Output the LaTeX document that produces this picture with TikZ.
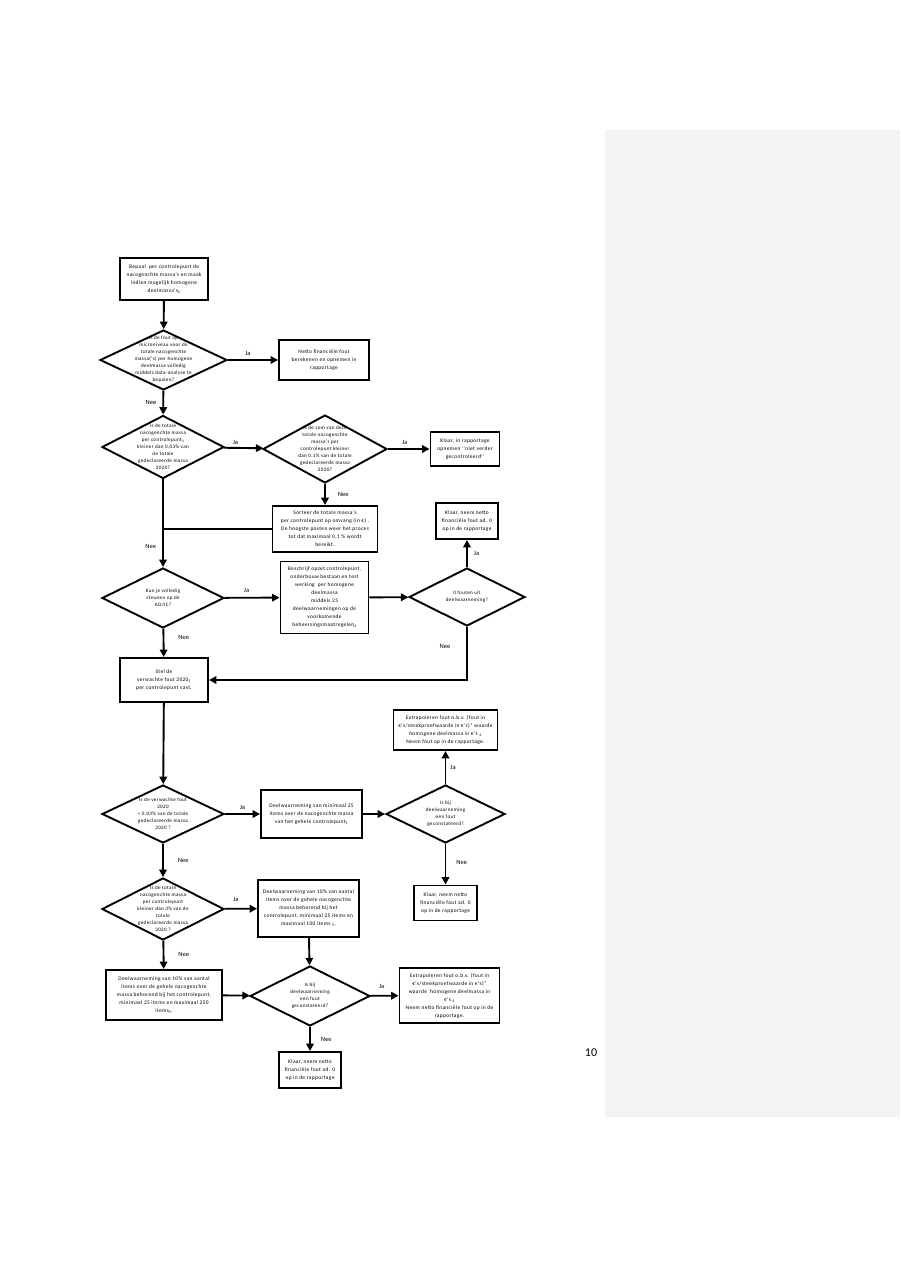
\documentclass[tikz,border=0pt]{standalone}
\usepackage{fontspec}
\setmainfont{Carlito}
\newfontfamily\boxfont[LetterSpace=7]{Carlito}
\usetikzlibrary{shapes.geometric,arrows.meta}
\newcommand{\dtxt}[2]{\makebox[0pt]{\raisebox{-1.4pt}{\smash{\parbox{#1}{\centering #2}}}}}
\newcommand{\fn}[1]{\textsubscript{#1}}
\begin{document}
\begin{tikzpicture}[x=1pt,y=-1pt,
  box/.style={draw, line width=1.9pt, align=center, inner sep=2pt,
    font=\boxfont\fontsize{5.4}{8}\selectfont},
  dia/.style={diamond, draw, line width=1.9pt, inner sep=0pt,
    font=\boxfont\fontsize{5.1}{7}\selectfont},
  arr/.style={line width=1.9pt, -{Triangle[length=7.5pt,width=7.5pt]}},
  ln/.style={line width=1.9pt},
  lbl/.style={font=\fontsize{6.5}{7}\selectfont, inner sep=0pt}]
\path[use as bounding box] (0,0) rectangle (900,1273);
\fill[fill={rgb,255:red,243;green,243;blue,243}] (605,130) rectangle (900,1117);
\node[font=\fontsize{12}{12}\selectfont, inner sep=0pt] (pg) at (591,1053) {10};

% nodes
\node[box, minimum width=88pt, minimum height=42pt] (b1) at (164,279)
  {Bepaal \ per controlepunt de\\ nacogenchte massa's en maak\\ indien mogelijk homogene\\ deelmassa's\fn{2}};
\node[dia, minimum width=127pt, minimum height=60pt] (d1) at (163.5,360)
  {\dtxt{66pt}{Is de fout op\\ microniveau voor de\\ totale nacogenchte\\ massa('s) per homogene\\ deelmassa volledig\\ middels data-analyse te\\ bepalen?}};
\node[box, minimum width=90pt, minimum height=40pt] (b2) at (324,360)
  {Netto financiële fout\\ berekenen en opnemen in\\ rapportage};
\node[dia, minimum width=122pt, minimum height=63pt] (d2) at (163,447)
  {\dtxt{62pt}{Is de totale\\ nacogenchte massa\\ per controlepunt\fn{3}\\ kleiner dan 0,03\% van\\ de totale\\ gedeclareerde massa\\ 2020?}};
\node[dia, minimum width=124pt, minimum height=68pt] (d3) at (325,449)
  {\dtxt{66pt}{Is de som van deze\\ totale nacogenchte\\ massa's per\\ controlepunt kleiner\\ dan 0,1\% van de totale\\ gedeclareerde massa\\ 2020?}};
\node[box, minimum width=69pt, minimum height=34pt] (b3) at (465,449)
  {Klaar, in rapportage\\ opnemen ''niet verder\\ gecontroleerd''};
\node[box, minimum width=105pt, minimum height=46pt] (b4) at (325,529)
  {Sorteer de totale massa's\\ per controlepunt op omvang (in €) .\\ De hoogste posten weer het proces\\ tot dat maximaal 0,1 \% wordt\\ bereikt.};
\coordinate (j1) at (163,529);
\node[dia, minimum width=122pt, minimum height=60pt] (d4) at (163,598)
  {\dtxt{60pt}{Kun je volledig\\ steunen op de\\ AO/IC?}};
\node[box, minimum width=88pt, minimum height=72pt] (b5) at (324.5,597.5)
  {Beschrijf opzet controlepunt,\\ onderbouw bestaan en test\\ werking \ per homogene\\ deelmassa\\ middels 25\\ deelwaarnemingen op de\\ voorkomende\\ beheersingsmaatregelen\fn{4}};
\node[dia, minimum width=116pt, minimum height=58pt] (d5) at (467,597)
  {\dtxt{60pt}{0 fouten uit\\ deelwaarneming?}};
\node[box, minimum width=62pt, minimum height=36pt] (b6) at (467,521)
  {Klaar, neem netto\\ financiële fout ad. 0\\ op in de rapportage};
\node[box, minimum width=88pt, minimum height=44pt] (b7) at (164,680)
  {Stel de\\ verwachte fout 2020\fn{3}\\ per controlepunt vast.};
\node[dia, minimum width=122pt, minimum height=58pt] (d6) at (163,814)
  {\dtxt{62pt}{Is de verwachte fout\\ 2020\\ < 0,03\% van de totale\\ gedeclareerde massa\\ 2020 ?}};
\node[box, minimum width=101pt, minimum height=48pt] (b8) at (311.5,814)
  {Deelwaarneming van minimaal 25\\ items over de nacogenchte massa\\ van het gehele controlepunt\fn{5}};
\node[dia, minimum width=119pt, minimum height=58pt] (d7) at (445.5,814)
  {\dtxt{60pt}{Is bij\\ deelwaarneming\\ een fout\\ geconstateerd?}};
\node[box, minimum width=104pt, minimum height=40pt] (b9) at (445.5,730)
  {Extrapoleren fout o.b.v. (fout in\\ €'s/steekproefwaarde in €'s)* waarde\\ homogene deelmassa in €'s \fn{4}\\ Neem fout op in de rapportage.};
\node[box, minimum width=63pt, minimum height=35pt] (b10) at (445.5,903)
  {Klaar, neem netto\\ financiële fout ad. 0\\ op in de rapportage};
\node[dia, minimum width=122pt, minimum height=62pt] (d8) at (163,909)
  {\dtxt{62pt}{Is de totale\\ nacogenchte massa\\ per controlepunt\\ kleiner dan 3\% van de\\ totale\\ gedeclareerde massa\\ 2020 ?}};
\node[box, minimum width=101pt, minimum height=57pt] (b11) at (308.5,908.5)
  {Deelwaarneming van 10\% van aantal\\ items over de gehele nacogenchte\\ massa behorend bij het\\ controlepunt, minimaal 25 items en\\ maximaal 100 items \fn{5}.};
\node[dia, minimum width=120pt, minimum height=60pt] (d9) at (310,996)
  {\dtxt{60pt}{Is bij\\ deelwaarneming\\ een fout\\ geconstateerd?}};
\node[box, minimum width=116pt, minimum height=50pt] (b12) at (164,995)
  {Deelwaarneming van 10\% van aantal\\ items over de gehele nacogenchte\\ massa behorend bij het controlepunt,\\ minimaal 25 items en maximaal 250\\ items\fn{5}.};
\node[box, minimum width=100pt, minimum height=55pt] (b13) at (449.5,995.5)
  {Extrapoleren fout o.b.v. (fout in\\ €'s/steekproefwaarde in €'s)*\\ waarde \ homogene deelmassa in\\ €'s \fn{4}\\ Neem netto financiële fout op in de\\ rapportage.};
\node[box, minimum width=62pt, minimum height=36pt] (b14) at (310,1070)
  {Klaar, neem netto\\ financiële fout ad. 0\\ op in de rapportage};

% connectors
\draw[arr] (b1) -- (d1);
\draw[arr] (d1) -- (b2) node[lbl, pos=0.4, above=4pt] {Ja};
\draw[arr] (d1) -- (d2) node[lbl, pos=0.5, left=6pt] {Nee};
\draw[arr] (d2) -- (d3) node[lbl, pos=0.3, above=2pt] {Ja};
\draw[arr] (d3) -- (b3) node[lbl, pos=0.4, above=4pt] {Ja};
\draw[arr] (d3.south) -- (d3.south |- b4.north) node[lbl, pos=0.5, right=12pt] {Nee};
\draw[ln] (b4.west) -- (j1);
\draw[arr] (d2.south) -- (d4.north) node[lbl, pos=0.77, left=6pt] {Nee};
\draw[arr] (d4) -- (b5) node[lbl, pos=0.4, above=4pt] {Ja};
\draw[arr] (b5) -- (d5);
\draw[arr] (d5.north) -- (d5.north |- b6.south) node[lbl, pos=0.5, right=6pt] {Ja};
\draw[arr] (d5.south) |- (b7.east) node[lbl, pos=0.25, above=4pt, xshift=-22pt] {Nee};
\draw[arr] (d4) -- (b7) node[lbl, pos=0.3, right=14pt] {Nee};
\draw[arr] (b7) -- (d6);
\draw[arr] (d6) -- (b8) node[lbl, pos=0.5, above=4pt] {Ja};
\draw[arr] (b8) -- (d7);
\draw[arr] (d7) -- (b9) node[lbl, pos=0.5, right=4pt] {Ja};
\draw[arr] (d7) -- (b10) node[lbl, pos=0.45, right=10pt] {Nee};
\draw[arr] (d6) -- (d8) node[lbl, pos=0.5, right=14pt] {Nee};
\draw[arr] (d8) -- (b11) node[lbl, pos=0.35, above=6pt] {Ja};
\draw[arr] (b11) -- (d9);
\draw[arr] (d8) -- (b12) node[lbl, pos=0.5, right=14pt] {Nee};
\draw[arr] (b12) -- (d9);
\draw[arr] (d9) -- (b13) node[lbl, pos=0.4, above=6pt] {Ja};
\draw[arr] (d9) -- (b14) node[lbl, pos=0.5, right=10pt] {Nee};
\end{tikzpicture}
\end{document}
